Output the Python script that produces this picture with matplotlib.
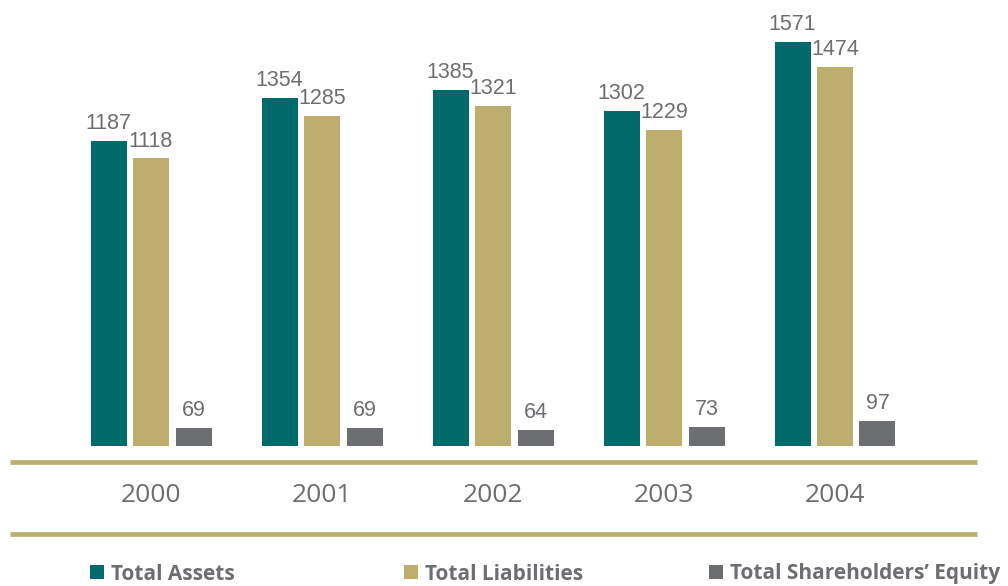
import numpy as np
import matplotlib.pyplot as plt
import matplotlib.transforms as mtransforms
from matplotlib.lines import Line2D
from matplotlib.patches import Patch

years = ['2000', '2001', '2002', '2003', '2004']
total_assets = [1187, 1354, 1385, 1302, 1571]
total_liabilities = [1118, 1285, 1321, 1229, 1474]
shareholders_equity = [69, 69, 64, 73, 97]

series_names = ['Total Assets', 'Total Liabilities', 'Total Shareholders\u2019 Equity']
colors = ['#006b6a', '#bdae6e', '#6d6e71']
text_gray = '#6d6e71'

W, H = 1008, 586
fig = plt.figure(figsize=(W / 100, H / 100), dpi=100)

# axes spans the full width; x scale chosen so groups are 171px apart
px_per_unit = 171.0
xmin = -151.0 / px_per_unit
xmax = xmin + W / px_per_unit
ymax = 1700
px_per_val = 404.0 / 1571
base_y = (H - 446) / H
ax = fig.add_axes([0, base_y, 1, ymax * px_per_val / H])
ax.set_xlim(xmin, xmax)
ax.set_ylim(0, ymax)
ax.axis('off')

x = np.arange(len(years))
width = 36 / px_per_unit
step = 42.5 / px_per_unit
for i, (vals, c) in enumerate(zip([total_assets, total_liabilities, shareholders_equity], colors)):
    pos = x + (i - 1) * step
    ax.bar(pos, vals, width=width, color=c)
    for xp, v in zip(pos, vals):
        ax.annotate(str(v), (xp, v), xytext=(0, 5), textcoords='offset points',
                    ha='center', va='bottom', fontsize=15.5, color=text_gray,
                    family='Liberation Sans')

# year labels between the two rules
trans = mtransforms.blended_transform_factory(ax.transData, fig.transFigure)
for xp, yr in zip(x, years):
    ax.text(xp, (H - 495) / H, yr, transform=trans,
            ha='center', va='center', fontsize=19, color=text_gray, family='Open Sans')

# two horizontal rules
for yy in (461.5, 534):
    fig.add_artist(Line2D([10 / W, 977 / W], [(H - yy) / H] * 2, color='#bdae6e', lw=3.4,
                          transform=fig.transFigure, solid_capstyle='butt'))

# legend entries, each placed separately
for name, c, lx in zip(series_names, colors, [90, 404, 709]):
    fig.legend(handles=[Patch(facecolor=c, edgecolor='none')], labels=[name],
               loc='center left', bbox_to_anchor=(lx / W, (H - 574) / H),
               frameon=False, borderpad=0, borderaxespad=0,
               handlelength=0.68, handleheight=0.68, handletextpad=0.35,
               prop={'family': 'Open Sans', 'weight': 'bold', 'size': 15},
               labelcolor=text_gray)

fig.savefig('out.png', dpi=100)
